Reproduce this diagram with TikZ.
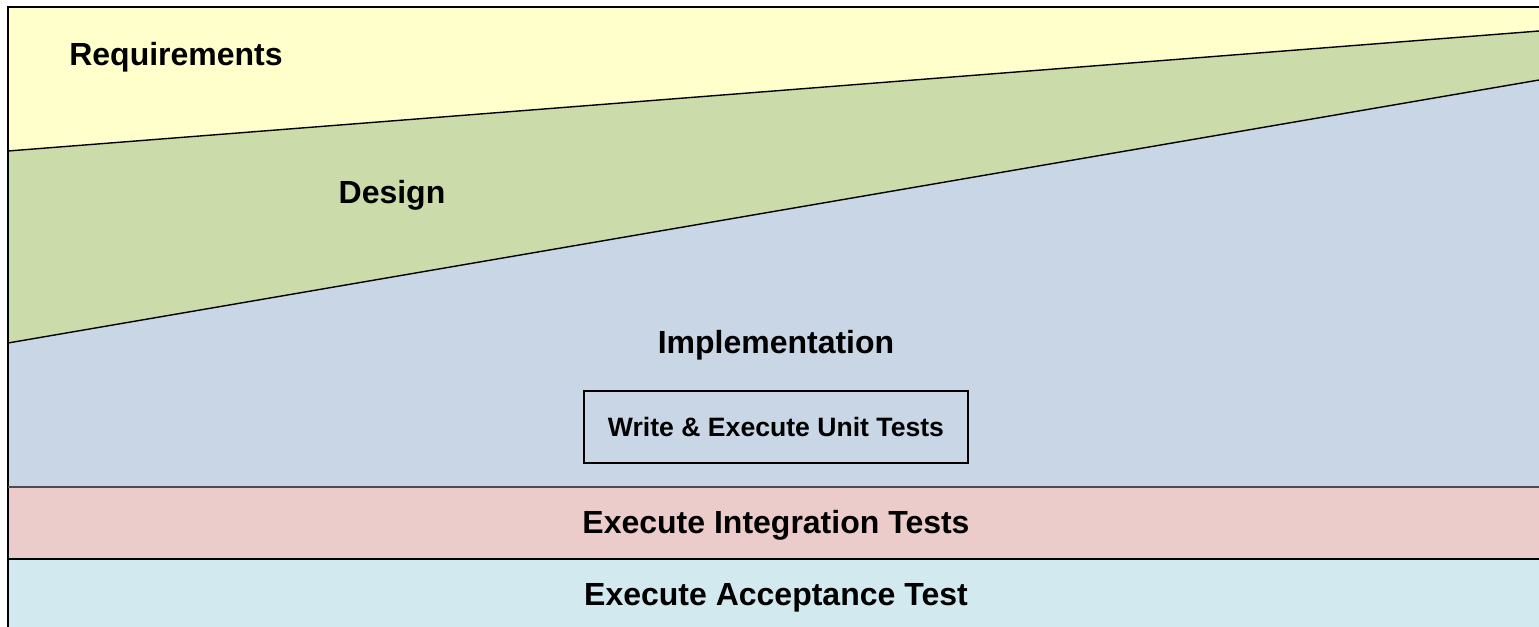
\documentclass[tikz,border=0pt]{standalone}
\usepackage{fontspec}
\setmainfont{Liberation Sans}
\definecolor{reqyellow}{HTML}{FFFFCC}
\definecolor{desgreen}{HTML}{CCDBAA}
\definecolor{implblue}{HTML}{C9D6E6}
\definecolor{intred}{HTML}{ECCCCA}
\definecolor{acccyan}{HTML}{D2EAEF}
\tikzset{
  phase/.style = {anchor=base, font=\fontsize{16}{19}\selectfont\bfseries},
  testbox/.style = {draw, line width=0.6pt, minimum width=192pt,
                    minimum height=36pt, inner sep=0pt,
                    font=\fontsize{13.3}{16}\selectfont\bfseries},
  edge/.style = {line width=0.7pt}
}

\begin{document}
\begin{tikzpicture}[x=0.5pt,y=-0.5pt]
	\def \xl{8}
	\def \xr{1539}
	\def \top{7}
	\def \bot{627}
	\useasboundingbox (0,0) rectangle (\xr,\bot);

	% Bands
	\fill[reqyellow] (\xl,\top) -- (\xr,\top) -- (\xr,31) -- (\xl,151) -- cycle;
	\fill[desgreen]  (\xl,151) -- (\xr,31) -- (\xr,80) -- (\xl,343) -- cycle;
	\fill[implblue]  (\xl,343) -- (\xr,80) -- (\xr,487) -- (\xl,487) -- cycle;
	\fill[intred]    (\xl,487) rectangle (\xr,559);
	\fill[acccyan]   (\xl,559) rectangle (\xr,\bot);

	% Borders
	\draw[edge] (\xl,\bot) -- (\xl,\top) -- (\xr,\top);
	\draw[edge] (\xl,151) -- (\xr,31);
	\draw[edge] (\xl,343) -- (\xr,80);
	\draw[edge, black!70] (\xl,487) -- (\xr,487);
	\draw[edge] (\xl,559) -- (\xr,559);

	% Labels
	\node[phase] (req)  at (176,65)  {Requirements};
	\node[phase] (des)  at (392,203) {Design};
	\node[phase] (impl) at (776,353) {Implementation};
	\node[testbox] (unit) at (776,427) {Write \& Execute Unit Tests};
	\node[phase] (integ) at (776,533) {Execute Integration Tests};
	\node[phase] (accept) at (776,605) {Execute Acceptance Test};
\end{tikzpicture}
\end{document}
